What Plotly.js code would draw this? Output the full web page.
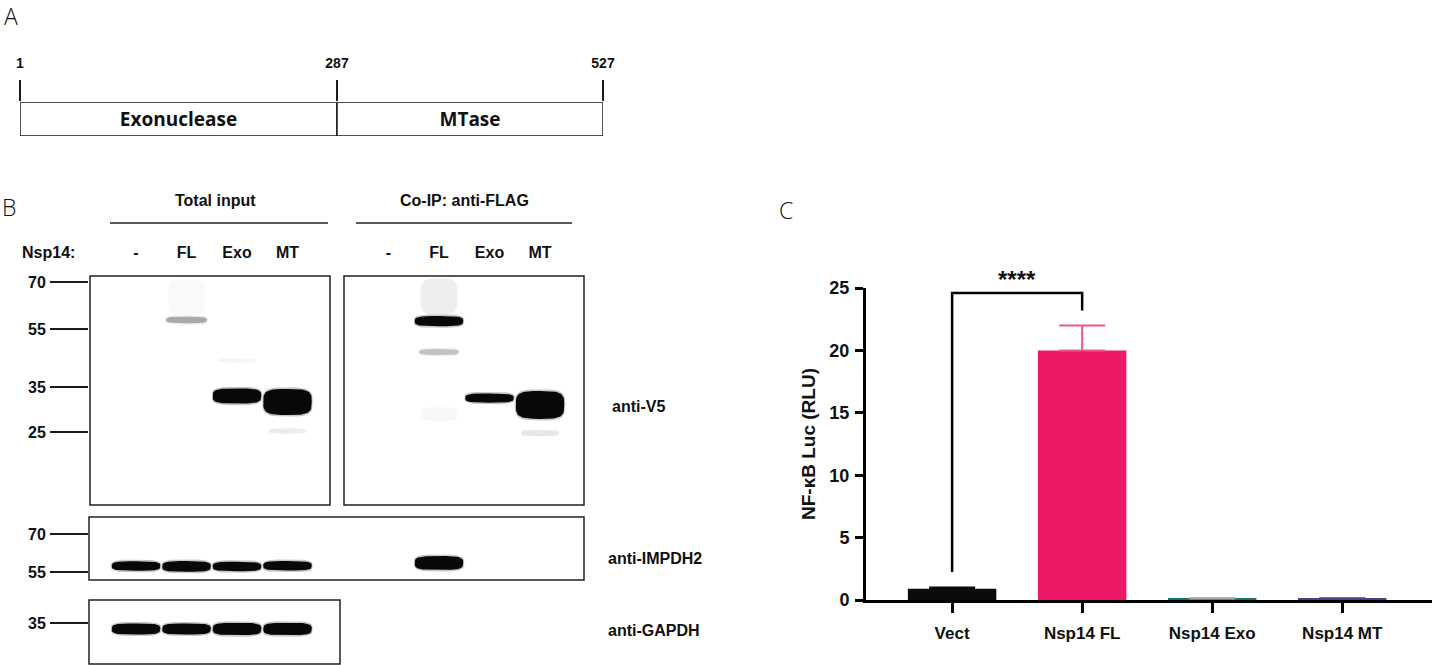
<!DOCTYPE html>
<html><head><meta charset="utf-8">
<script src="https://cdn.plot.ly/plotly-3.0.1.min.js"></script>
<style>html,body{margin:0;padding:0;background:#fff}#chart{width:1432px;height:665px}</style>
</head><body><div id="chart"></div>
<script>
// ---------- Panel A : Nsp14 domain map ----------
const domainNames = ['Exonuclease', 'MTase'];
const domainStart = [1, 287];
const domainEnd = [287, 527];
const residueMarks = [1, 287, 527];

// ---------- Panel B : co-IP western blots ----------
const laneIndex = [1, 2, 3, 4, 6, 7, 8, 9];
const laneLabels = ['-', 'FL', 'Exo', 'MT', '-', 'FL', 'Exo', 'MT'];
// ladder (kDa) and migration (% of blot height)
const v5LadderKDa = ['70', '55', '35', '25'];
const v5LadderMig = [2.6, 23.1, 48.5, 68.1];
const impLadderKDa = ['70', '55'];
const impLadderMig = [27, 87.3];
const gapLadderKDa = ['35'];
const gapLadderMig = [35.4];
// anti-V5 blot bands
const v5Lane = [2, 7, 2, 3, 3, 4, 4, 7, 7, 7, 8, 9, 9];
const v5Mig = [9, 9, 19.2, 37, 52.4, 55.0, 67.7, 19.7, 33.2, 60.3, 53.3, 56.3, 68.6];
const v5Int = [0.025, 0.07, 0.35, 0.04, 1, 1, 0.08, 1, 0.25, 0.03, 1, 1, 0.1];
const v5Spread = [8, 8, 1.4, 1, 3.3, 5.7, 1.2, 2.2, 1.3, 3, 2.0, 6.1, 1.4];
// anti-IMPDH2 blot bands
const impLane = [1, 2, 3, 4, 7];
const impMig = [77.8, 78.5, 78.5, 77.5, 73];
const impInt = [1, 1, 1, 1, 1];
const impSpread = [7.5, 8.5, 7.5, 7.5, 11];
// anti-GAPDH blot bands
const gapLane = [1, 2, 3, 4];
const gapMig = [44.6, 44.6, 44.6, 44.6];
const gapInt = [1, 1, 1, 1];
const gapSpread = [8.5, 8.5, 9.5, 9.5];

// ---------- Panel C : NF-kB luciferase ----------
const categories = ['Vect', 'Nsp14 FL', 'Nsp14 Exo', 'Nsp14 MT'];
const meanRLU = [0.9, 20, 0.12, 0.12];
const semRLU = [0.1, 2, 0.03, 0.03];
const significance = '****';

// ---------- helpers (layout only) ----------
const W = 1432, H = 665;
const px = x => x / W;
const py = y => 1 - y / H;

const traces = [];

// Panel A bars
traces.push({
  type: 'bar', orientation: 'h', xaxis: 'x2', yaxis: 'y2',
  y: domainNames.map(() => 0),
  base: domainStart,
  x: domainStart.map((s, i) => domainEnd[i] - s),
  width: 1,
  marker: {color: '#ffffff', line: {color: '#1a1a1a', width: 1.5}},
  text: domainNames, textposition: 'inside', insidetextanchor: 'middle',
  textangle: 0,
  textfont: {family: 'Open Sans, Liberation Sans, sans-serif', size: 19, weight: 700, color: '#111'},
  hoverinfo: 'skip', showlegend: false
});

// Panel B bands
function bandShape(cx, cy, a, b) {
  const xs = [], ys = [];
  for (let i = 0; i <= 60; i++) {
    const t = i / 60 * 2 * Math.PI, c = Math.cos(t), s = Math.sin(t);
    xs.push(cx + a * Math.sign(c) * Math.pow(Math.abs(c), 0.55));
    ys.push(cy + b * Math.sign(s) * Math.pow(Math.abs(s), 0.55));
  }
  return {xs, ys};
}
function addBands(yaxis, lanes, mig, inten, spread, pxPerUnit) {
  lanes.forEach((lane, i) => {
    const g = Math.round(255 * (1 - inten[i]));
    const col = `rgb(${g},${g},${g})`;
    const a = 0.36 + 0.12 * inten[i];
    if (inten[i] >= 0.2) {
      const halo = bandShape(lane, mig[i], a * 1.04, spread[i] + 1.6 / pxPerUnit);
      traces.push({type: 'scatter', mode: 'lines', xaxis: 'x3', yaxis: yaxis,
        x: halo.xs, y: halo.ys, fill: 'toself', fillcolor: col, opacity: 0.22,
        line: {width: 0}, hoverinfo: 'skip', showlegend: false});
    }
    const core = bandShape(lane, mig[i], a, spread[i]);
    traces.push({type: 'scatter', mode: 'lines', xaxis: 'x3', yaxis: yaxis,
      x: core.xs, y: core.ys, fill: 'toself', fillcolor: col, opacity: 0.96,
      line: {width: 0}, hoverinfo: 'skip', showlegend: false});
  });
}
addBands('y3', v5Lane, v5Mig, v5Int, v5Spread, 2.29);
addBands('y4', impLane, impMig, impInt, impSpread, 0.63);
addBands('y5', gapLane, gapMig, gapInt, gapSpread, 0.65);

// Panel C bars
const barColors = ['#0b0b0b', '#ED1866', '#17766C', '#4E3C8E'];
const errColors = ['#0b0b0b', '#F0558B', '#9aa8a6', '#4E3C8E'];
categories.forEach((c, i) => {
  traces.push({
    type: 'bar', x: [i], y: [meanRLU[i]], width: 0.68, name: c,
    marker: {color: barColors[i], line: {width: 0}},
    error_y: {type: 'data', symmetric: false, array: [semRLU[i]], arrayminus: [0],
      color: errColors[i], thickness: 2, width: 23},
    hoverinfo: 'x+y', showlegend: false
  });
});

const bracketTop = 24.6;
const leftFoot = meanRLU[0] + semRLU[0] + 1.25;
const rightFoot = meanRLU[1] + semRLU[1] + 1.2;

const boldFont = (size) => ({family: 'Liberation Sans, Arial, sans-serif', size: size, weight: 700, color: '#111'});
const letterFont = {family: 'Open Sans, Noto Sans, sans-serif', size: 23, weight: 300, color: '#111'};

const layout = {
  width: W, height: H, margin: {l: 0, r: 0, t: 0, b: 0},
  paper_bgcolor: '#fff', plot_bgcolor: 'rgba(0,0,0,0)',
  barmode: 'overlay', showlegend: false,
  // Panel C
  xaxis: {domain: [px(866), 1], range: [-0.662, 3.69], anchor: 'y',
    tickvals: categories.map((c, i) => i), ticktext: categories,
    showline: true, linecolor: '#000', linewidth: 3, ticks: 'outside', ticklen: 10, tickwidth: 3, tickcolor: '#000',
    showgrid: false, zeroline: false, tickfont: boldFont(17), ticklabelstandoff: 6, fixedrange: true},
  yaxis: {domain: [py(600), py(288)], range: [0, 25], anchor: 'x',
    tickvals: [0, 5, 10, 15, 20, 25],
    showline: true, linecolor: '#000', linewidth: 3, ticks: 'outside', ticklen: 8, tickwidth: 3, tickcolor: '#000',
    showgrid: false, zeroline: false, tickfont: boldFont(18), ticklabelstandoff: 2,
    title: {text: 'NF-κB Luc (RLU)', font: boldFont(19), standoff: 9}, fixedrange: true},
  // Panel A
  xaxis2: {domain: [px(20), px(603)], range: [1, 527], anchor: 'y2', side: 'top',
    tickvals: residueMarks, ticktext: residueMarks.map(String),
    ticks: 'outside', ticklen: 21, tickwidth: 1.5, tickcolor: '#1a1a1a',
    showline: false, showgrid: false, zeroline: false, tickfont: boldFont(14), ticklabelstandoff: 6, fixedrange: true},
  yaxis2: {domain: [py(136), py(102)], range: [-0.5, 0.5], anchor: 'x2', visible: false, fixedrange: true},
  // Panel B
  xaxis3: {domain: [px(89), px(584)], range: [0.069, 9.871], anchor: 'y3', side: 'top',
    tickvals: laneIndex, ticktext: laneLabels, ticks: '', showline: false, showgrid: false, zeroline: false,
    tickfont: boldFont(16), ticklabelstandoff: 14, fixedrange: true},
  yaxis3: {domain: [py(505), py(276)], range: [100, 0], anchor: 'x3',
    tickvals: v5LadderMig, ticktext: v5LadderKDa, ticks: 'outside', ticklen: 38, tickwidth: 1.5, tickcolor: '#1a1a1a',
    showline: false, showgrid: false, zeroline: false, tickfont: boldFont(16), ticklabelstandoff: 1, fixedrange: true},
  yaxis4: {domain: [py(580), py(517)], range: [100, 0], anchor: 'x3',
    tickvals: impLadderMig, ticktext: impLadderKDa, ticks: 'outside', ticklen: 38, tickwidth: 1.5, tickcolor: '#1a1a1a',
    showline: false, showgrid: false, zeroline: false, tickfont: boldFont(16), ticklabelstandoff: 1, fixedrange: true},
  yaxis5: {domain: [0, py(600)], range: [100, 0], anchor: 'x3',
    tickvals: gapLadderMig, ticktext: gapLadderKDa, ticks: 'outside', ticklen: 38, tickwidth: 1.5, tickcolor: '#1a1a1a',
    showline: false, showgrid: false, zeroline: false, tickfont: boldFont(16), ticklabelstandoff: 1, fixedrange: true},
  shapes: [
    // blot frames
    {type: 'rect', xref: 'paper', yref: 'paper', x0: px(90), x1: px(330), y0: py(505), y1: py(276), line: {color: '#222', width: 1.5}},
    {type: 'rect', xref: 'paper', yref: 'paper', x0: px(344), x1: px(584), y0: py(505), y1: py(276), line: {color: '#222', width: 1.5}},
    {type: 'rect', xref: 'paper', yref: 'paper', x0: px(89), x1: px(584), y0: py(580), y1: py(517), line: {color: '#222', width: 1.5}},
    {type: 'rect', xref: 'paper', yref: 'paper', x0: px(89), x1: px(340), y0: py(664), y1: py(600), line: {color: '#222', width: 1.5}},
    // header underlines
    {type: 'line', xref: 'paper', yref: 'paper', x0: px(110), x1: px(328), y0: py(223), y1: py(223), line: {color: '#222', width: 1.5}},
    {type: 'line', xref: 'paper', yref: 'paper', x0: px(356), x1: px(572), y0: py(223), y1: py(223), line: {color: '#222', width: 1.5}},
    // significance bracket
    {type: 'path', xref: 'x', yref: 'y',
      path: `M0,${leftFoot} L0,${bracketTop} L1,${bracketTop} L1,${rightFoot}`,
      line: {color: '#000', width: 2.5}}
  ],
  annotations: [
    {text: 'A', xref: 'paper', yref: 'paper', x: px(2), y: py(16), xanchor: 'left', yanchor: 'middle', showarrow: false, font: letterFont},
    {text: 'B', xref: 'paper', yref: 'paper', x: px(0), y: py(207), xanchor: 'left', yanchor: 'middle', showarrow: false, font: letterFont},
    {text: 'C', xref: 'paper', yref: 'paper', x: px(777), y: py(210), xanchor: 'left', yanchor: 'middle', showarrow: false, font: letterFont},
    {text: 'Total input', xref: 'paper', yref: 'paper', x: px(215), y: py(200), xanchor: 'center', yanchor: 'middle', showarrow: false, font: boldFont(16)},
    {text: 'Co-IP: anti-FLAG', xref: 'paper', yref: 'paper', x: px(464), y: py(200), xanchor: 'center', yanchor: 'middle', showarrow: false, font: boldFont(16)},
    {text: 'Nsp14:', xref: 'paper', yref: 'paper', x: px(20), y: py(252), xanchor: 'left', yanchor: 'middle', showarrow: false, font: boldFont(16)},
    {text: 'anti-V5', xref: 'paper', yref: 'paper', x: px(610), y: py(406), xanchor: 'left', yanchor: 'middle', showarrow: false, font: boldFont(16)},
    {text: 'anti-IMPDH2', xref: 'paper', yref: 'paper', x: px(606), y: py(558), xanchor: 'left', yanchor: 'middle', showarrow: false, font: boldFont(16)},
    {text: 'anti-GAPDH', xref: 'paper', yref: 'paper', x: px(606), y: py(630), xanchor: 'left', yanchor: 'middle', showarrow: false, font: boldFont(16)},
    {text: significance, xref: 'x', yref: 'y', x: 0.5, y: bracketTop, xanchor: 'center', yanchor: 'bottom', yshift: -2, showarrow: false, font: boldFont(24)}
  ]
};

Plotly.newPlot('chart', traces, layout, {displayModeBar: false});
</script>
</body></html>
